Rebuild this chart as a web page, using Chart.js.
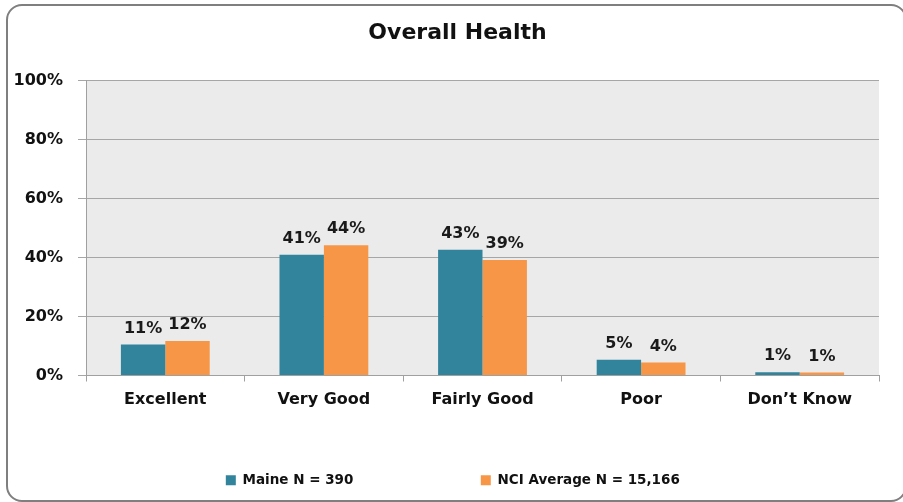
<!DOCTYPE html>
<html>
<head>
<meta charset="utf-8">
<script src="https://cdn.jsdelivr.net/npm/chart.js@4"></script>
<style>
  html, body { margin: 0; padding: 0; background: #fff; overflow: hidden; }
  #wrap { position: relative; width: 903px; height: 502px; }
  #frame {
    position: absolute; left: 6px; top: 4px; width: 901px; height: 498px;
    border: 2px solid #7f7f7f; border-radius: 16px; box-sizing: border-box;
  }
  canvas { position: absolute; left: 0; top: 0; }
</style>
</head>
<body>
<div id="wrap">
  <div id="frame"></div>
  <canvas id="chart" width="903" height="502"></canvas>
</div>
<script>
// categories and series (percent)
const categories = ["Excellent", "Very Good", "Fairly Good", "Poor", "Don\u2019t Know"];
const maineValues = [10.5, 40.9, 42.6, 5.3, 1.1];
const nciValues = [11.7, 44.1, 39.1, 4.4, 1.0];
const seriesNames = ["Maine N = 390", "NCI Average N = 15,166"];
const yTicks = [0, 20, 40, 60, 80, 100];

const FONT = "'DejaVu Sans', Verdana, sans-serif";

// grey plot area behind the bars
const plotBg = {
    id: "plotBg",
    beforeDraw(chart) {
        const a = chart.chartArea;
        const ctx = chart.ctx;
        ctx.save();
        ctx.fillStyle = "#ebebeb";
        ctx.fillRect(a.left, a.top, a.right - a.left, a.bottom - a.top);
        ctx.restore();
    }
};

// percent labels above each bar
const barLabels = {
    id: "barLabels",
    afterDatasetsDraw(chart) {
        const ctx = chart.ctx;
        ctx.save();
        ctx.font = "bold 16px " + FONT;
        ctx.fillStyle = "#1a1a1a";
        ctx.textAlign = "center";
        ctx.textBaseline = "alphabetic";
        chart.data.datasets.forEach((ds, i) => {
            chart.getDatasetMeta(i).data.forEach((bar, j) => {
                ctx.fillText(Math.round(ds.data[j]) + "%", bar.x, bar.y - 12);
            });
        });
        ctx.restore();
    }
};

// wide gap between the two legend entries
const legendGap = ["\u2003\u2003\u2003\u2003\u2003\u2003\u2003\u2003  ", "  "];

new Chart(document.getElementById("chart").getContext("2d"), {
    type: "bar",
    data: {
        labels: categories,
        datasets: [
            { label: seriesNames[0], data: maineValues, backgroundColor: "#31849b" },
            { label: seriesNames[1], data: nciValues, backgroundColor: "#f79646" }
        ]
    },
    options: {
        responsive: false,
        animation: false,
        layout: { padding: { left: 12, right: 0, top: 0, bottom: 5 } },
        categoryPercentage: 0.56,
        barPercentage: 1.0,
        plugins: {
            title: {
                display: true,
                text: "Overall Health",
                color: "#111",
                font: { family: FONT, size: 22, weight: "bold" },
                padding: { top: 20, bottom: 34 }
            },
            legend: {
                position: "bottom",
                labels: {
                    color: "#111",
                    font: { family: FONT, size: 13.5, weight: "bold" },
                    boxWidth: 10,
                    boxHeight: 10,
                    padding: 10,
                    generateLabels(chart) {
                        return chart.data.datasets.map((ds, i) => ({
                            text: ds.label + legendGap[i],
                            fillStyle: ds.backgroundColor,
                            strokeStyle: ds.backgroundColor,
                            lineWidth: 0,
                            fontColor: "#111",
                            datasetIndex: i
                        }));
                    }
                }
            },
            tooltip: { enabled: false }
        },
        scales: {
            x: {
                grid: {
                    offset: true,
                    drawOnChartArea: false,
                    color: "#a0a0a0",
                    tickLength: 6
                },
                border: { color: "#a0a0a0" },
                ticks: {
                    color: "#111",
                    padding: 9,
                    font: { family: FONT, size: 16, weight: "bold" }
                },
                afterFit(scale) { scale.height = 88; }
            },
            y: {
                min: 0,
                max: 100,
                afterBuildTicks(scale) { scale.ticks = yTicks.map(v => ({ value: v })); },
                grid: { color: "#a6a6a6", tickLength: 8 },
                border: { color: "#a0a0a0" },
                ticks: {
                    color: "#111",
                    padding: 15,
                    font: { family: FONT, size: 16, weight: "bold" },
                    callback: v => v + "%"
                },
                afterFit(scale) { scale.width = 74; }
            },
            y2: {
                position: "right",
                min: 0,
                max: 100,
                grid: { display: false },
                border: { display: false },
                ticks: { display: false },
                afterFit(scale) { scale.width = 24; }
            }
        }
    },
    plugins: [plotBg, barLabels]
});
</script>
</body>
</html>
